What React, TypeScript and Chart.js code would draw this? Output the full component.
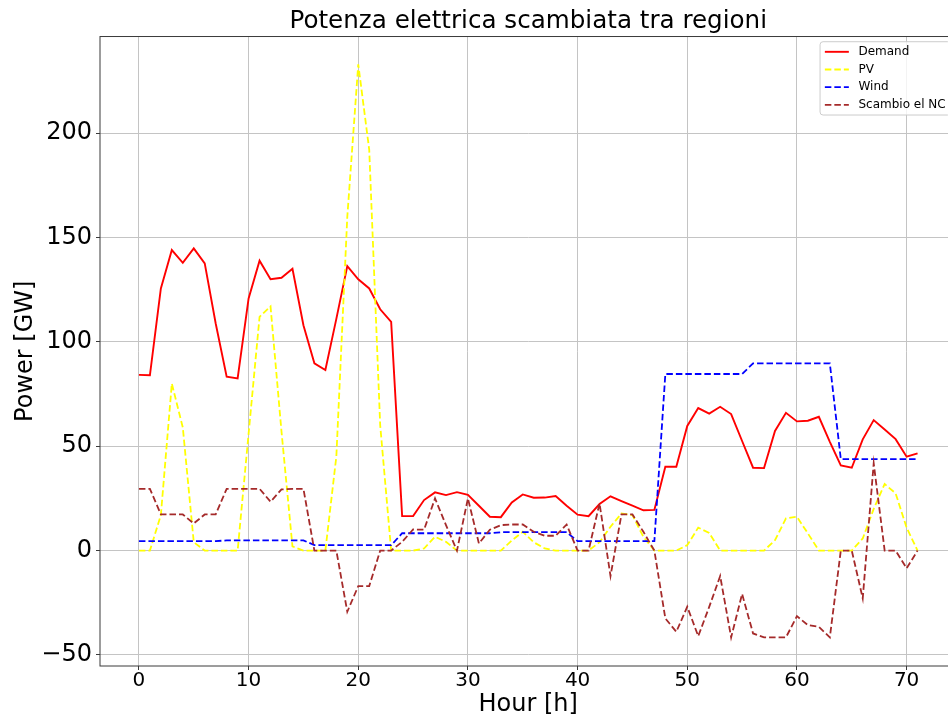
import React, { useEffect, useRef } from "react";
import { Chart, registerables } from "chart.js";

Chart.register(...registerables);

// ---------- data ----------
const hours = [
  0, 1, 2, 3, 4, 5, 6, 7, 8, 9, 10, 11, 12, 13, 14, 15, 16, 17, 18, 19, 20, 21, 22, 23,
  24, 25, 26, 27, 28, 29, 30, 31, 32, 33, 34, 35, 36, 37, 38, 39, 40, 41, 42, 43, 44, 45, 46, 47,
  48, 49, 50, 51, 52, 53, 54, 55, 56, 57, 58, 59, 60, 61, 62, 63, 64, 65, 66, 67, 68, 69, 70, 71,
];

const demand = [
  84.2, 84, 125.6, 144, 137.9, 144.8, 137.6, 108.8, 83.3, 82.5, 120.8, 138.9,
  130, 130.7, 135, 108, 89.7, 86.5, 111, 136.3, 130, 125.6, 115.6, 109.6,
  16.5, 16.5, 24.2, 27.9, 26.6, 28, 26.7, 21.5, 16.2, 16, 23.1, 26.9,
  25.3, 25.4, 26.1, 21.5, 17.2, 16.5, 22.3, 26, 23.7, 21.5, 19.3, 19.5,
  40.2, 40.2, 59.7, 68.3, 65.6, 68.9, 65.4, 52.5, 39.7, 39.5, 57.3, 66,
  61.9, 62.2, 64.1, 52.1, 40.8, 39.7, 53.3, 62.5, 58, 53.4, 45, 46.6,
];

const pv = [
  0, 0, 17, 80, 59, 4, 0, 0, 0, 0, 56, 112,
  117, 57, 2, 0, 0, 0, 45, 160, 233, 192, 60, 0,
  0, 0, 1, 6.6, 4.2, 0, 0, 0, 0, 0, 4.8, 9,
  4, 1, 0, 0, 0, 0, 4, 11.4, 17.8, 17, 6.6, 0,
  0, 0, 2.6, 11, 8.5, 0, 0, 0, 0, 0, 5, 15.4,
  16.2, 8.2, 0, 0, 0, 0, 5.8, 20, 31.9, 27.4, 11, 0,
];

const wind = [
  4.5, 4.5, 4.5, 4.5, 4.5, 4.5, 4.5, 4.5, 4.9, 4.9, 4.9, 4.9,
  4.9, 4.9, 4.9, 4.9, 2.6, 2.6, 2.6, 2.6, 2.6, 2.6, 2.6, 2.6,
  8.3, 8.3, 8.3, 8.3, 8.3, 8.3, 8.3, 8.3, 8.3, 8.8, 8.8, 8.8,
  8.8, 8.8, 8.8, 8.8, 4.5, 4.5, 4.5, 4.5, 4.5, 4.5, 4.5, 4.5,
  84.6, 84.6, 84.6, 84.6, 84.6, 84.6, 84.6, 84.6, 89.7, 89.7, 89.7, 89.7,
  89.7, 89.7, 89.7, 89.7, 43.8, 43.8, 43.8, 43.8, 43.8, 43.8, 43.8, 43.8,
];

const scambioNC = [
  29.6, 29.6, 17.3, 17.3, 17.3, 13, 17.3, 17.3, 29.6, 29.6, 29.6, 29.6,
  23.4, 29.3, 29.6, 29.6, 0, 0, 0, -29.3, -17, -17, 0, 0,
  4.2, 10.1, 10, 25, 12.2, 0, 25, 3.4, 10, 12.2, 12.5, 12.5,
  9, 7.1, 7.1, 12.5, 0, 0, 22.6, -12.2, 17.3, 17.3, 9, 0,
  -32.5, -38.9, -26.9, -41, -27, -12.2, -41.6, -20.8, -39.7, -41.6, -41.6, -41.6,
  -31.4, -35.7, -36.5, -41.6, 0, 0, -22.9, 41.8, 0, 0, -8.5, 0,
];

const xTicks = [0, 10, 20, 30, 40, 50, 60, 70];
const yTicks = [-50, 0, 50, 100, 150, 200];

const seriesLabels = ["Demand", "PV", "Wind", "Scambio el NC"];
const titleText = "Potenza elettrica scambiata tra regioni";
const xTitle = "Hour [h]";
const yTitle = "Power [GW]";

// ---------- styling ----------
const FONT = "'DejaVu Sans', sans-serif";
const GRID = "#c4c4c4";
const SPINE = "#3a3a3a";
const DASH = [6.5, 3];

const CANVAS_W = 965;
const CANVAS_H = 724;

const toPoints = (vals: number[]) => hours.map((h, i) => ({ x: h, y: vals[i] }));

const framePlugin = {
  id: "frameAndLegend",
  afterDatasetsDraw(chart: any) {
    const { ctx, chartArea: a } = chart;
    ctx.save();
    ctx.strokeStyle = SPINE;
    ctx.lineWidth = 1;
    ctx.setLineDash([]);
    ctx.strokeRect(a.left, a.top, a.right - a.left, a.bottom - a.top);
    ctx.restore();
  },
  afterDraw(chart: any) {
    const { ctx, chartArea: a } = chart;
    const fs = 12;
    ctx.save();
    ctx.font = `${fs}px ${FONT}`;
    const datasets = chart.data.datasets;
    let maxW = 0;
    datasets.forEach((d: any) => {
      maxW = Math.max(maxW, ctx.measureText(d.label).width);
    });
    const pad = 0.4 * fs;
    const handleLen = 2 * fs;
    const handlePad = 0.8 * fs;
    const rowStep = 17.7;
    const boxW = pad + handleLen + handlePad + maxW + pad;
    const boxH = 2 * 10.1 + rowStep * (datasets.length - 1);
    const right = a.right - 6;
    const left = right - boxW;
    const top = a.top + 5.2;
    ctx.beginPath();
    if ((ctx as any).roundRect) {
      (ctx as any).roundRect(left, top, boxW, boxH, 3);
    } else {
      ctx.rect(left, top, boxW, boxH);
    }
    ctx.fillStyle = "rgba(255,255,255,0.8)";
    ctx.fill();
    ctx.strokeStyle = "#cccccc";
    ctx.lineWidth = 1;
    ctx.stroke();
    datasets.forEach((d: any, i: number) => {
      const y = top + 10.1 + i * rowStep;
      ctx.beginPath();
      ctx.setLineDash(d.borderDash || []);
      ctx.strokeStyle = d.borderColor;
      ctx.lineWidth = d.borderWidth;
      ctx.moveTo(left + pad, y);
      ctx.lineTo(left + pad + handleLen, y);
      ctx.stroke();
      ctx.setLineDash([]);
      ctx.fillStyle = "#000";
      ctx.textAlign = "left";
      ctx.textBaseline = "middle";
      ctx.fillText(d.label, left + pad + handleLen + handlePad, y);
    });
    ctx.restore();
  },
};

const minusFmt = (v: any) => {
  const n = Number(v);
  return n < 0 ? "\u2212" + Math.abs(n) : String(n);
};

export default function App() {
  const ref = useRef<HTMLCanvasElement | null>(null);

  useEffect(() => {
    if (!ref.current) return;
    const chart = new Chart(ref.current, {
      type: "line",
      data: {
        datasets: [
          {
            label: seriesLabels[0],
            data: toPoints(demand),
            borderColor: "#ff0000",
            borderWidth: 1.9,
            pointRadius: 0,
            tension: 0,
            fill: false,
            order: 4,
          },
          {
            label: seriesLabels[1],
            data: toPoints(pv),
            borderColor: "#ffff00",
            borderWidth: 1.8,
            borderDash: DASH,
            pointRadius: 0,
            tension: 0,
            fill: false,
            order: 3,
          },
          {
            label: seriesLabels[2],
            data: toPoints(wind),
            borderColor: "#0000ff",
            borderWidth: 1.8,
            borderDash: DASH,
            pointRadius: 0,
            tension: 0,
            fill: false,
            order: 2,
          },
          {
            label: seriesLabels[3],
            data: toPoints(scambioNC),
            borderColor: "#a52a2a",
            borderWidth: 1.8,
            borderDash: DASH,
            pointRadius: 0,
            tension: 0,
            fill: false,
            order: 1,
          },
        ],
      },
      options: {
        responsive: false,
        devicePixelRatio: 1,
        animation: false,
        events: [],
        layout: { padding: { top: 0, left: 0, right: CANVAS_W - 956.5, bottom: 0 } },
        plugins: {
          legend: { display: false },
          tooltip: { enabled: false },
          title: {
            display: true,
            text: titleText,
            fullSize: false,
            color: "#000",
            font: { family: FONT, size: 24.6, weight: "normal", lineHeight: 1.2 },
            padding: { top: 6.4, bottom: 0.6 },
          },
        },
        scales: {
          x: {
            type: "linear",
            min: -3.55,
            max: 74.55,
            afterBuildTicks: (s: any) => {
              s.ticks = xTicks.map((v) => ({ value: v }));
            },
            afterFit: (s: any) => {
              s.height = 58;
            },
            ticks: {
              font: { family: FONT, size: 20, lineHeight: 1 },
              color: "#000",
              padding: 1,
              maxRotation: 0,
              autoSkip: false,
              callback: minusFmt,
            },
            grid: { color: GRID, lineWidth: 1, tickLength: 4, tickColor: SPINE, tickWidth: 1 },
            border: { display: false },
            title: {
              display: true,
              text: xTitle,
              color: "#000",
              font: { family: FONT, size: 24, lineHeight: 1.2 },
              padding: { top: 0, bottom: 5 },
            },
          },
          y: {
            type: "linear",
            min: -55.3,
            max: 246.3,
            afterBuildTicks: (s: any) => {
              s.ticks = yTicks.map((v) => ({ value: v }));
            },
            afterFit: (s: any) => {
              s.width = 100;
            },
            ticks: {
              font: { family: FONT, size: 24 },
              color: "#000",
              padding: 4,
              autoSkip: false,
              callback: minusFmt,
            },
            grid: { color: GRID, lineWidth: 1, tickLength: 4, tickColor: SPINE, tickWidth: 1 },
            border: { display: false },
            title: {
              display: true,
              text: yTitle,
              color: "#000",
              font: { family: FONT, size: 24, lineHeight: 1.2 },
              padding: { top: 11, bottom: 0 },
            },
          },
        },
      } as any,
      plugins: [framePlugin],
    });
    return () => chart.destroy();
  }, []);

  return (
    <div
      style={{
        position: "fixed",
        left: 0,
        top: 0,
        width: 948,
        height: 724,
        overflow: "hidden",
        background: "#fff",
      }}
    >
      <canvas ref={ref} width={CANVAS_W} height={CANVAS_H} style={{ display: "block" }} />
    </div>
  );
}
